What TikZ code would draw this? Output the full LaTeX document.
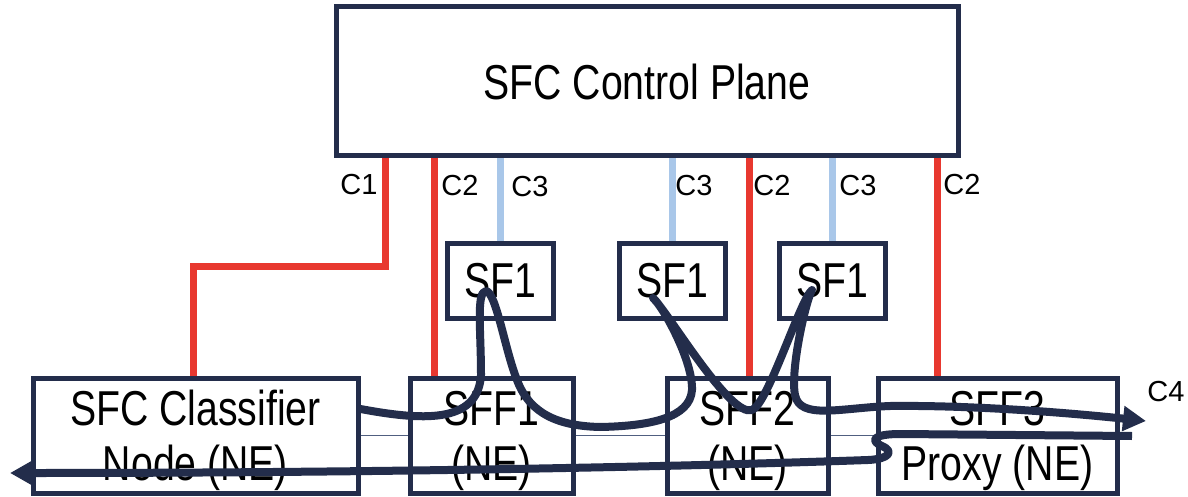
\documentclass[tikz,border=0pt]{standalone}
\usepackage{xcolor}
\usepackage{fontspec}
\setmainfont{Liberation Sans}
\newfontfamily\boxfont{Liberation Sans}[FakeStretch=0.8]
\usepackage{tikz}
\usetikzlibrary{arrows.meta}

\definecolor{navy}{RGB}{35,45,75}
\definecolor{ctrlred}{RGB}{232,56,47}
\definecolor{sfblue}{RGB}{169,199,233}
\definecolor{linkgray}{RGB}{80,95,128}

\begin{document}
\begin{tikzpicture}[
    x=1pt, y=-1pt,
    block/.style={
        rectangle,
        draw=navy,
        line width=5pt,
        fill=white,
        inner sep=0pt,
        align=center,
        text depth=0pt,
        font=\boxfont\fontsize{49}{55}\selectfont
    },
    sfbox/.style={block, minimum width=106pt, minimum height=75pt},
    nebox/.style={block, minimum height=115pt},
    ctrl/.style={draw=ctrlred, line width=7pt},
    sfline/.style={draw=sfblue, line width=7pt},
    link/.style={draw=linkgray, line width=1.6pt},
    tag/.style={font=\fontsize{29}{32}\selectfont, inner sep=0pt},
    flow/.style={draw=navy, line width=8pt, line join=round},
    arrow/.style={-{Triangle[length=23pt,width=24pt]}}
]
\useasboundingbox (0,0) rectangle (1188,497);

\node[block, minimum width=622pt, minimum height=149pt] (plane) at (647,81.5) {SFC Control Plane};

\node[sfbox] (sfa) at (500,280.5) {SF1};
\node[sfbox] (sfb) at (672.5,280.5) {SF1};
\node[sfbox] (sfc) at (832,280.5) {SF1};

\node[nebox, minimum width=325pt] (classifier) at (195.5,435.5) {SFC Classifier\\Node (NE)};
\node[nebox, minimum width=163pt] (sffa) at (491.5,435.5) {SFF1\\(NE)};
\node[nebox, minimum width=161pt] (sffb) at (747.5,435.5) {SFF2\\(NE)};
\node[nebox, minimum width=239pt] (sffc) at (997.5,435.5) {SFF3\\Proxy (NE)};

\draw[link] (classifier) -- (sffa);
\draw[link] (sffa) -- (sffb);
\draw[link] (sffb) -- (sffc);

\draw[ctrl] (385,0 |- plane.south) |- (193,266) -- (193,0 |- classifier.north);
\draw[ctrl] (434,0 |- plane.south) -- (434,0 |- sffa.north);
\draw[ctrl] (749,0 |- plane.south) -- (749,0 |- sffb.north);
\draw[ctrl] (937,0 |- plane.south) -- (937,0 |- sffc.north);

\foreach \sf in {sfa,sfb,sfc}
    \draw[sfline] (\sf.north |- plane.south) -- (\sf.north);

\node[tag] (c1) at (359,185) {C1};
\node[tag] (c2a) at (460,186) {C2};
\node[tag] (c3a) at (530,187) {C3};
\node[tag] (c3b) at (694,186) {C3};
\node[tag] (c2b) at (772,186) {C2};
\node[tag] (c3c) at (858,186) {C3};
\node[tag] (c2c) at (962,185) {C2};
\node[tag] (c4) at (1166,392) {C4};

\coordinate (fwd) at (1146,421);
\coordinate (back) at (1132,436);
\coordinate (exit) at (10,473);

% forward path through the three SF1
\draw[flow, arrow] (classifier.east |- 0,409)
    .. controls (420,420) and (478,425) .. (481,375)
    .. controls (481,330) and (476,292) .. (486,291)
    .. controls (496,292) and (505,350) .. (517,380)
    .. controls (530,415) and (560,426) .. (600,427)
    .. controls (650,426) and (690,418) .. (692,390)
    .. controls (693,360) and (662,305) .. (653,298)
    .. controls (668,312) and (730,418) .. (752,410)
    .. controls (768,404) and (800,300) .. (812,290)
    .. controls (806,300) and (790,370) .. (795,395)
    .. controls (800,420) and (840,408) .. (890,406)
    .. controls (980,405) and (1080,414) .. (fwd);

% return path
\draw[flow, arrow] (back) -- (900,434)
    .. controls (872,434) and (870,441) .. (882,446)
    .. controls (894,451) and (890,459) .. (868,460)
    .. controls (700,466) and (400,473) .. (exit);

\end{tikzpicture}
\end{document}
